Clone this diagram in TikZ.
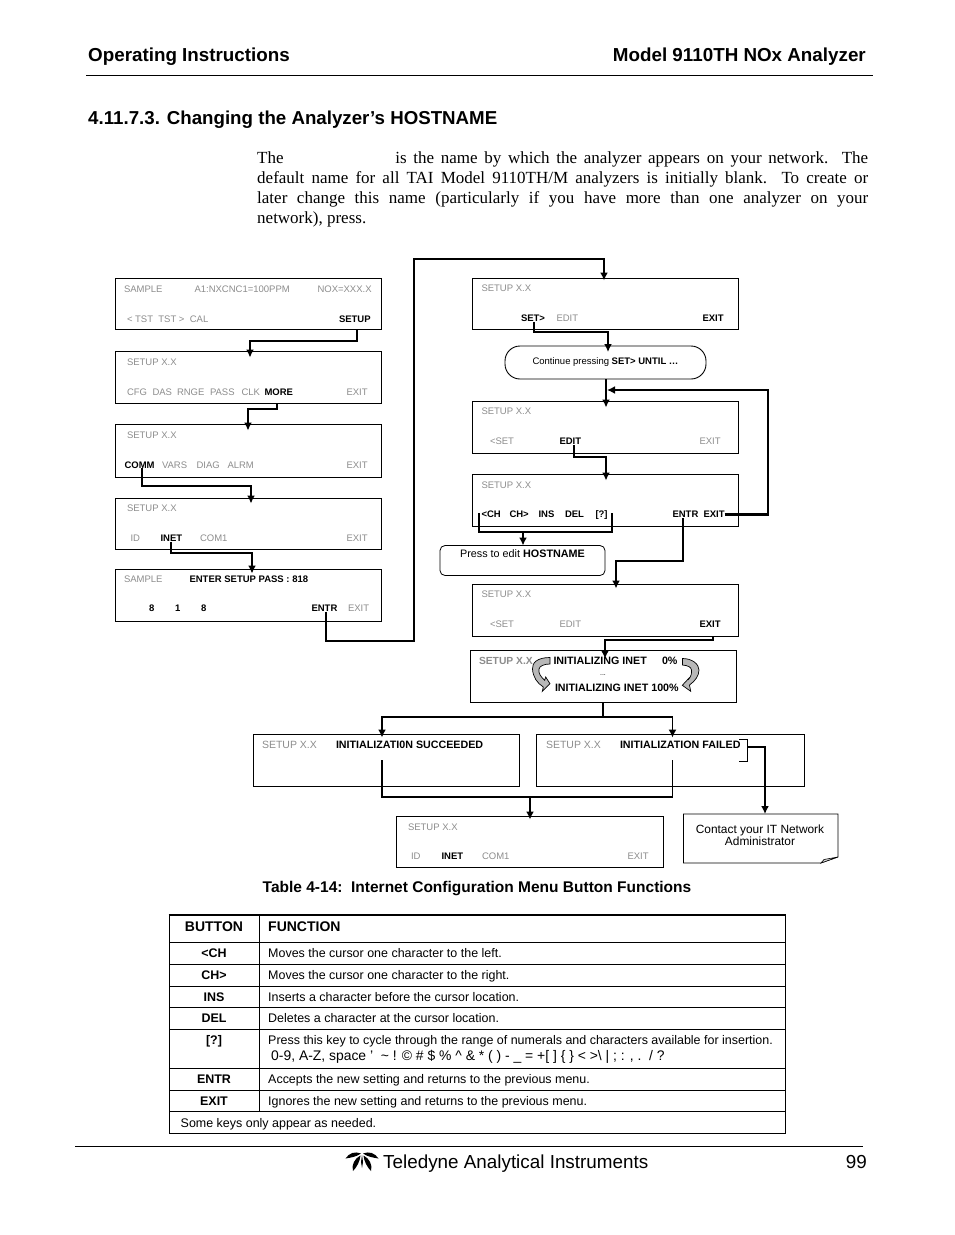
\documentclass[tikz,border=0pt]{standalone}
\usepackage{fontspec}
\setmainfont{Liberation Serif}
\newfontfamily\arial{Liberation Sans}
\usetikzlibrary{arrows.meta}
\definecolor{lcd}{gray}{0.55}
\definecolor{curl}{gray}{0.72}
\newcommand{\fsz}[1]{\fontsize{#1}{#1}\selectfont}
\newcount\gcnt
\tikzset{
  panelbox/.style={draw=black,line width=0.9pt,inner sep=0pt,outer sep=0pt},
  lab/.style={font=\arial\fsz{9.5},anchor=west,inner sep=0pt,outer sep=0pt,text height=6.8pt,text depth=0pt},
  bigb/.style={lab,font=\arial\bfseries\fsz{10.7},text=black},
  conn/.style={line width=2.4pt,draw=black,miter limit=10,-{Latex[length=8pt,width=8pt]}},
  thinconn/.style={conn,line width=1.3pt},
  plainconn/.style={line width=2.4pt,draw=black},
  rule/.style={line width=0.9pt,draw=black},
  cell/.style={font=\arial\fsz{12.47},anchor=west,inner sep=0pt,text height=9pt,text depth=0pt},
  cellb/.style={font=\arial\bfseries\fsz{12.47},anchor=center,inner sep=0pt,text height=9pt,text depth=0pt},
  curlarrow/.style={draw=black,line width=0.7pt,fill=curl},
}
% named box from its corners
\newcommand{\pnl}[5]{\node[panelbox,minimum width={(#4-#2)*1pt},minimum height={(#5-#3)*1pt}] (#1) at ({(#2+#4)/2},{(#3+#5)/2}) {};}
\newcommand{\gl}[3]{\global\advance\gcnt by 1 \node[lab,text=lcd,name=g\the\gcnt] at (#1,#2) {#3};}
\newcommand{\bl}[4]{\node[lab,text=black] (#1) at (#2,#3) {\bfseries #4};}
\begin{document}
\begin{tikzpicture}[x=1pt,y=-1pt]
\useasboundingbox (0,0) rectangle (954,1235);

% page head
\node[font=\arial\bfseries\fsz{18.8},anchor=base west,inner sep=0pt] (head1) at (88,61.5) {Operating Instructions};
\node[font=\arial\bfseries\fsz{18.8},anchor=base east,inner sep=0pt] (head2) at (866,61.5) {Model 9110TH NOx Analyzer};
\draw[line width=1.6pt] (86,75.5) -- (873,75.5);
\node[font=\arial\bfseries\fsz{18.7},anchor=base west,inner sep=0pt] (sect) at (88,124.5) {4.11.7.3. Changing the Analyzer’s HOSTNAME};
\node[font=\fsz{17},anchor=north west,inner sep=0pt] (para) at (257,151) {\parbox[t]{611pt}{\baselineskip=20pt
\hbox to 611pt{The\hspace{105pt} is the name by which the analyzer appears on your network.\ \ The}
\hbox to 611pt{default name for all TAI Model 9110TH/M analyzers is initially blank.\ \ To create or}
\hbox to 611pt{later change this name (particularly if you have more than one analyzer on your}
\hbox{network), press.}}};

% left column panels
\pnl{p1}{115.5}{278.5}{381.5}{329.5}
\pnl{p2}{115.5}{351.5}{381.5}{403.5}
\pnl{p3}{115.5}{424.5}{381.5}{477}
\pnl{p4}{115.5}{498.5}{381.5}{549.5}
\pnl{p5}{115.5}{569.5}{381.5}{621.5}
\gl{124}{289}{SAMPLE}\gl{194.5}{289}{A1:NXCNC1=100PPM}\gl{317.5}{289}{NOX=XXX.X}
\gl{127}{319.5}{< TST\ \ TST > \ CAL}\bl{bsetup}{339}{319.5}{SETUP}
\gl{127}{362.5}{SETUP X.X}
\gl{127}{392}{CFG}\gl{152.5}{392}{DAS}\gl{177}{392}{RNGE}\gl{210}{392}{PASS}\gl{241.5}{392}{CLK}\bl{bmore}{264.5}{392}{MORE}\gl{346.5}{392}{EXIT}
\gl{127}{435.5}{SETUP X.X}
\bl{bcomm}{124.5}{465}{COMM}\gl{162}{465}{VARS}\gl{196.5}{465}{DIAG}\gl{227.5}{465}{ALRM}\gl{346.5}{465}{EXIT}
\gl{127}{508.5}{SETUP X.X}
\gl{130.5}{538.5}{ID}\bl{binet}{160.5}{538.5}{INET}\gl{200}{538.5}{COM1}\gl{346.5}{538.5}{EXIT}
\gl{124}{579.5}{SAMPLE}\bl{bpass}{189.5}{579.5}{ENTER SETUP PASS : 818}
\bl{d1}{149}{608.5}{8}\bl{d2}{175}{608.5}{1}\bl{d3}{201}{608.5}{8}\bl{bentra}{311.5}{608.5}{ENTR}\gl{348}{608.5}{EXIT}

% right column panels
\pnl{r1}{472.5}{278.5}{738.5}{329.5}
\pnl{r2}{472.5}{401.5}{738.5}{453.5}
\pnl{r3}{472.5}{474.5}{738.5}{526.5}
\pnl{r4}{472.5}{584.5}{738.5}{636.5}
\gl{481.5}{288.5}{SETUP X.X}
\bl{bset}{521}{318.5}{SET>}\gl{556.5}{318.5}{EDIT}\bl{bexita}{702.5}{318.5}{EXIT}
\node[draw=black,line width=0.9pt,rounded corners=15pt,minimum width=201pt,minimum height=33pt,inner sep=0pt,outer sep=0pt] (pill) at (605.5,362.5) {};
\node[lab,anchor=center] (pilltxt) at (605.5,361) {Continue pressing \bfseries SET> UNTIL …};
\gl{481.5}{411.5}{SETUP X.X}
\gl{490}{441.5}{<SET}\bl{bedit}{559.5}{441.5}{EDIT}\gl{699.5}{441.5}{EXIT}
\gl{481.5}{485.5}{SETUP X.X}
\bl{bchl}{481.5}{514.5}{<CH}\bl{bchr}{509.5}{514.5}{CH>}\bl{bins}{538.5}{514.5}{INS}\bl{bdel}{565}{514.5}{DEL}\bl{bq}{595.5}{514.5}{[?]}\bl{bentrb}{672.5}{514.5}{ENTR}\bl{bexitb}{703.5}{514.5}{EXIT}
\node[draw=black,line width=0.8pt,rounded corners=5pt,minimum width=165pt,minimum height=30pt,inner sep=0pt,outer sep=0pt] (host) at (522.5,560.5) {};
\node[lab,font=\arial\fsz{10.8},anchor=center] (hosttxt) at (522.5,554) {Press to edit \bfseries HOSTNAME};
\gl{481.5}{594.5}{SETUP X.X}
\gl{490}{624.5}{<SET}\gl{559.5}{624.5}{EDIT}\bl{bexitc}{699.5}{624.5}{EXIT}

% initialising panel
\pnl{init}{470.5}{650.5}{736.5}{702.5}
\draw[curlarrow] (550,657.5) .. controls (537,657.5) and (532,663) .. (532.5,669) .. controls (533,677) and (537,683) .. (543.3,687) -- (542.3,691.3) -- (550,683.7) -- (545.7,677) -- (544.7,680.3) .. controls (541,677) and (538,673) .. (539,669) .. controls (539.5,666) and (544,664) .. (550,664) -- cycle;
\draw[curlarrow] (682.5,658.5) .. controls (692,658.5) and (699,664) .. (699,670) .. controls (699,676) and (695,681) .. (689.5,685) -- (690.7,691.3) -- (682.3,685.3) -- (690,677) -- (688,680) .. controls (691,677) and (692,673) .. (691.5,670) .. controls (691,667) and (688,665.5) .. (682.5,665) -- cycle;
\node[lab,text=lcd,font=\arial\bfseries\fsz{10.3}] (isetup) at (479,661.5) {SETUP X.X};
\node[bigb] (i1) at (553.5,661.5) {INITIALIZING INET};
\node[bigb] (i2) at (662,661.5) {0\%};
\node[lab,font=\arial\fsz{7},anchor=center] (idots) at (603,672.5) {...};
\node[bigb] (i3) at (555,688) {INITIALIZING INET 100\%};

% outcome panels
\pnl{ok}{253.5}{734.5}{519}{786.5}
\pnl{fail}{536.5}{734.5}{804}{786.5}
\pnl{done}{396.5}{816.5}{663}{867}
\node[lab,text=lcd,font=\arial\fsz{10.5}] (oks) at (262,745.5) {SETUP X.X};
\node[bigb] (oktxt) at (336,745.5) {INITIALIZATI0N SUCCEEDED};
\node[lab,text=lcd,font=\arial\fsz{10.5}] (fails) at (546,745.5) {SETUP X.X};
\node[bigb] (failtxt) at (620,745.5) {INITIALIZATION FAILED};
\gl{408}{827}{SETUP X.X}
\gl{411}{856}{ID}\bl{bdone}{441.5}{856}{INET}\gl{482}{856}{COM1}\gl{627.5}{856}{EXIT}

% sticky note
\node[inner sep=0pt,outer sep=0pt,minimum width=155pt,minimum height=49pt] (note) at (760.5,838.5) {};
\draw[line width=0.6pt] (683.5,814) -- (838,814) -- (838,857) -- (821,863) -- (683.5,863) -- cycle;
\draw[line width=0.6pt,fill=black!15] (838,857) -- (824,859.5) -- (821,863) -- cycle;
\node[font=\arial\fsz{11.9},align=center,inner sep=0pt] (notetxt) at (760,835.5) {\baselineskip=13.2pt Contact your IT Network\\Administrator};

% connectors, left column
\draw[conn] (p1.south -| 357,0) |- (250,341) -- (p2.north -| 250,0) -- ++(0,6);
\draw[conn] (p2.south -| 277,0) |- (248,409) -- (p3.north -| 248,0) -- ++(0,6);
\draw[conn] (bcomm.south -| 142,0) |- (251,486) -- (p4.north -| 251,0) -- ++(0,5);
\draw[conn] (binet.south -| 171,0) |- (252,553) -- (p5.north -| 252,0) -- ++(0,4);
\draw[conn] (bentra.south -| 326,0) |- (414,641) |- (604,259) -- (r1.north -| 604,0) -- ++(0,2);

% connectors, right column
\draw[conn] (bset.south -| 534,0) |- (608,332) -- (pill.north -| 608,0) -- ++(0,6);
\draw[conn] (pill.south -| 606,0) -- (r2.north -| 606,0) -- ++(0,6);
\draw[conn] (bexitb.east) -- (768,514.5) |- (607,390);
\draw[conn] (bedit.south -| 574,0) |- (606,457) -- (r3.north -| 606,0) -- ++(0,6);
\draw[plainconn] (479,513) |- (612,532) -- (612,513);
\draw[conn] (r3.south -| 523,0) ++(0,6) -- (host.north -| 523,0);
\draw[conn] (bentrb.south -| 683,0) |- (616,561) -- (r4.north -| 616,0) -- ++(0,4);
\draw[thinconn] (r4.south -| 713,0) |- (605,640) -- (init.north -| 605,0) -- ++(0,8);
\draw[plainconn] (init.south -| 603,0) -- (603,717);
\draw[conn] (672.5,717) -| (ok.north -| 382,0) -- ++(0,3);
\draw[thinconn] (672.5,717) -- (fail.north -| 672.5,0) -- ++(0,3);
\draw[plainconn,line width=1.5pt] (382,760) |- (672.5,797) -- (672.5,760);
\draw[conn] (530,797) -- (done.north -| 530,0) -- ++(0,3);
\draw[line width=0.9pt] (739,739) -- (747.5,739) -- (747.5,761) -- (739,761);
\draw[conn] (747.5,747) -| (note.north -| 765,0);

% table
\node[font=\arial\bfseries\fsz{15.5},anchor=base,inner sep=0pt] (cap) at (477,892) {Table 4-14:\ \ Internet Configuration Menu Button Functions};
\node[font=\arial\bfseries\fsz{14},anchor=center,inner sep=0pt,text height=10pt,text depth=0pt] (hb) at (214,926) {BUTTON};
\node[font=\arial\bfseries\fsz{14},anchor=west,inner sep=0pt,text height=10pt,text depth=0pt] (hf) at (268,926) {FUNCTION};
\node[cellb] (k1) at (214,953) {<CH};
\node[cell] (f1) at (268,953) {Moves the cursor one character to the left.};
\node[cellb] (k2) at (214,975) {CH>};
\node[cell] (f2) at (268,975) {Moves the cursor one character to the right.};
\node[cellb] (k3) at (214,997) {INS};
\node[cell] (f3) at (268,997) {Inserts a character before the cursor location.};
\node[cellb] (k4) at (214,1018) {DEL};
\node[cell] (f4) at (268,1018) {Deletes a character at the cursor location.};
\node[cellb] (k5) at (214,1040) {[?]};
\node[cell] (f5) at (268,1040) {Press this key to cycle through the range of numerals and characters available for insertion.};
\node[cell,font=\arial\fsz{13.9}] (f5b) at (271,1056) {0-9, A-Z, space ’\ \ \char`\~\ ! © \# \$ \% \char`\^\ \& * ( ) - \_ = +[ ] \{ \} < >\char`\\\ | ; : , .\ \ / ?};
\node[cellb] (k6) at (214,1079) {ENTR};
\node[cell] (f6) at (268,1079) {Accepts the new setting and returns to the previous menu.};
\node[cellb] (k7) at (214,1101) {EXIT};
\node[cell] (f7) at (268,1101) {Ignores the new setting and returns to the previous menu.};
\node[cell] (f8) at (180.5,1123) {Some keys only appear as needed.};
\draw[line width=2pt] (168.5,915) -- (785.5,915);
\draw[rule] (169,915) -- (169,1133.5) -- (785,1133.5) -- (785,915);
\draw[rule] (259,915) -- (259,1111.5);
\draw[rule] (169,942) -- (785,942);
\draw[rule] (169,964.5) -- (785,964.5);
\draw[rule] (169,986) -- (785,986);
\draw[rule] (169,1007.5) -- (785,1007.5);
\draw[rule] (169,1029) -- (785,1029);
\draw[rule] (169,1068) -- (785,1068);
\draw[rule] (169,1090) -- (785,1090);
\draw[rule] (169,1111.5) -- (785,1111.5);

% foot
\draw[line width=1pt] (75,1146.5) -- (863,1146.5);
\fill[black] (361,1153.5) .. controls (355,1151) and (349,1153) .. (345.5,1158.5) .. controls (351,1157.5) and (356,1157) .. (361,1153.5) -- cycle;
\fill[black] (363,1153.5) .. controls (369,1151) and (375,1153) .. (378.5,1158.5) .. controls (373,1157.5) and (368,1157) .. (363,1153.5) -- cycle;
\fill[black] (360.5,1155.5) .. controls (355,1158) and (351,1165) .. (353,1171) .. controls (357,1167) and (360,1161) .. (360.5,1155.5) -- cycle;
\fill[black] (363.5,1155.5) .. controls (369,1158) and (373,1165) .. (371,1171) .. controls (367,1167) and (364,1161) .. (363.5,1155.5) -- cycle;
\fill[black] (362,1155) -- (363,1162) -- (362,1168) -- (361,1162) -- cycle;
\node[font=\arial\fsz{18.85},anchor=base west,inner sep=0pt] (foot) at (383,1168) {Teledyne Analytical Instruments};
\node[font=\arial\fsz{18.85},anchor=base east,inner sep=0pt] (pg) at (867,1168) {99};
\end{tikzpicture}
\end{document}
